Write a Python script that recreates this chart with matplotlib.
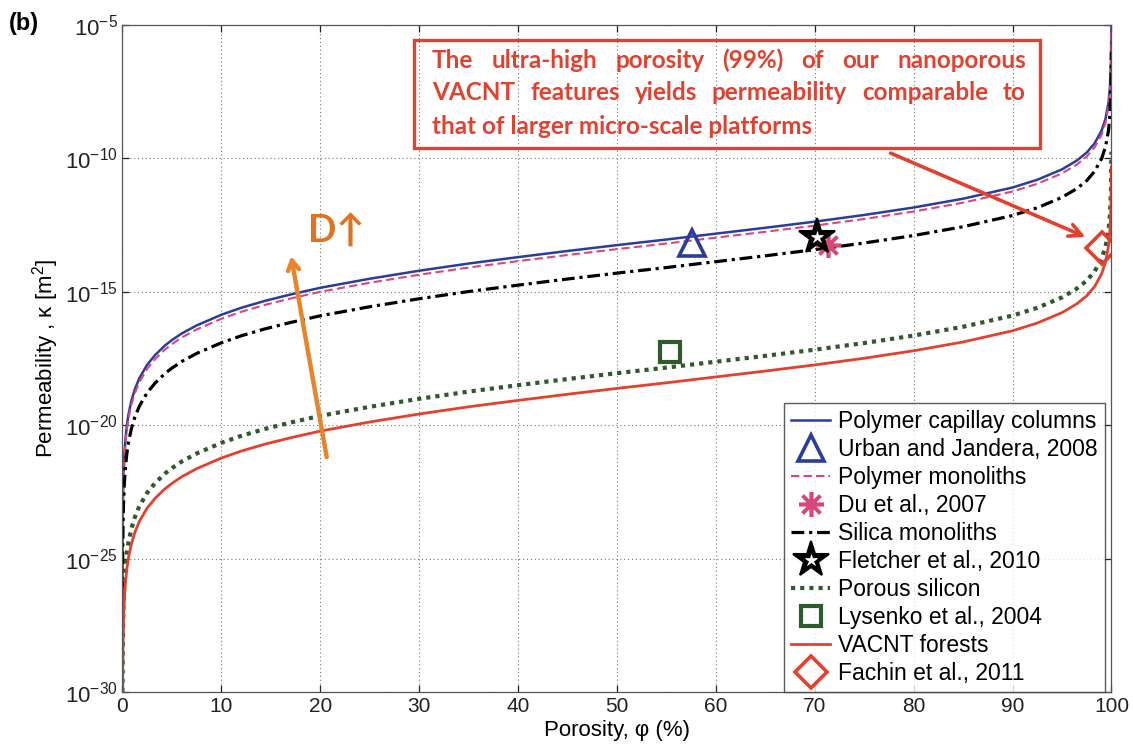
import matplotlib
matplotlib.use("Agg")
import matplotlib.pyplot as plt
import numpy as np
from matplotlib.patches import Rectangle

plt.rcParams['font.family'] = ['Liberation Sans', 'DejaVu Sans']
plt.rcParams['mathtext.fontset'] = 'custom'
plt.rcParams['mathtext.rm'] = 'Liberation Sans'
plt.rcParams['mathtext.it'] = 'Liberation Sans:italic'

# porosity (%) and log10 of permeability (m^2) for each platform
phi = [0, 0.02, 0.05, 0.1, 0.2, 0.3, 0.45, 0.6, 0.9, 1.25,
       1.7, 2.5, 3.3, 4.3, 5, 6, 7.5, 10, 12, 14.4,
       17, 20, 25, 30, 35, 40, 45, 50, 55, 60,
       65, 70, 75, 80, 85, 90, 92.5, 95, 96.5, 97.5,
       98.3, 99, 99.4, 99.7, 99.85, 99.95, 99.99]
logk_capillary = [-30, -24.05, -22.85, -21.95, -21.05, -20.52, -19.99, -19.61, -19.08, -18.65,
                  -18.24, -17.73, -17.37, -17.01, -16.81, -16.56, -16.26, -15.86, -15.60, -15.34,
                  -15.10, -14.85, -14.51, -14.21, -13.94, -13.70, -13.47, -13.25, -13.04, -12.82,
                  -12.60, -12.37, -12.12, -11.84, -11.51, -11.09, -10.80, -10.41, -10.08, -9.78,
                  -9.43, -8.96, -8.51, -7.91, -7.30, -6.35, -4.95]
logk_poly_mono = [-30, -24.20, -23.00, -22.10, -21.20, -20.67, -20.14, -19.76, -19.23, -18.80,
                  -18.39, -17.88, -17.52, -17.16, -16.96, -16.71, -16.41, -16.01, -15.75, -15.49,
                  -15.25, -15.00, -14.66, -14.36, -14.09, -13.85, -13.62, -13.40, -13.19, -12.97,
                  -12.75, -12.52, -12.27, -11.99, -11.66, -11.24, -10.95, -10.56, -10.23, -9.93,
                  -9.58, -9.11, -8.66, -8.06, -7.45, -6.50, -5.10]
logk_silica = [-30, -25.10, -23.90, -23.00, -22.10, -21.57, -21.04, -20.66, -20.13, -19.70,
               -19.29, -18.78, -18.42, -18.06, -17.86, -17.61, -17.31, -16.91, -16.65, -16.39,
               -16.15, -15.90, -15.56, -15.26, -14.99, -14.75, -14.52, -14.30, -14.09, -13.87,
               -13.65, -13.42, -13.17, -12.89, -12.56, -12.14, -11.85, -11.46, -11.13, -10.83,
               -10.48, -10.01, -9.56, -8.96, -8.35, -7.40, -6.00]
logk_por_si = [-30, -28.85, -27.65, -26.75, -25.85, -25.32, -24.79, -24.41, -23.88, -23.45,
               -23.04, -22.53, -22.17, -21.81, -21.61, -21.36, -21.06, -20.66, -20.40, -20.14,
               -19.90, -19.65, -19.31, -19.01, -18.74, -18.50, -18.27, -18.05, -17.84, -17.62,
               -17.40, -17.17, -16.92, -16.64, -16.31, -15.89, -15.60, -15.21, -14.88, -14.58,
               -14.23, -13.76, -13.31, -12.71, -12.10, -11.15, -9.75]
logk_vacnt = [-30, -29.42, -28.22, -27.32, -26.42, -25.89, -25.36, -24.98, -24.45, -24.02,
              -23.61, -23.10, -22.74, -22.38, -22.18, -21.93, -21.63, -21.23, -20.97, -20.71,
              -20.47, -20.22, -19.88, -19.58, -19.31, -19.07, -18.84, -18.62, -18.41, -18.19,
              -17.97, -17.74, -17.49, -17.21, -16.88, -16.46, -16.17, -15.78, -15.45, -15.15,
              -14.80, -14.33, -13.88, -13.28, -12.67, -11.72, -10.32]

# literature points: (porosity %, log10 permeability)
urban_2008 = (57.6, -13.18)
du_2007 = (71.3, -13.25)
fletcher_2010 = (70.2, -12.93)
lysenko_2004 = (55.4, -17.24)
fachin_2011 = (99.0, -13.35)

y_exps = [-30, -25, -20, -15, -10, -5]
x_ticks = [0, 10, 20, 30, 40, 50, 60, 70, 80, 90, 100]

BLUE = "#2b3c9b"; PINK = "#d8477c"; GREEN = "#2e5a2c"; RED = "#e2412f"
ORANGE = "#e8842a"

fig = plt.figure(figsize=(11.33, 7.49), dpi=100)
ax = fig.add_axes([0.1081, 0.0761, 0.8729, 0.8905])

p = np.array(phi)
def k(v):
    return 10.0 ** np.array(v, dtype=float)

h_cap, = ax.plot(p, k(logk_capillary), color=BLUE, lw=1.8, label="Polymer capillay columns")
h_pm, = ax.plot(p, k(logk_poly_mono), color=PINK, lw=1.5, ls=(0, (4, 2)), label="Polymer monoliths")
h_si, = ax.plot(p, k(logk_silica), color="black", lw=2.3, ls=(0, (4, 1.5, 1, 1.5)), label="Silica monoliths")
h_ps, = ax.plot(p, k(logk_por_si), color=GREEN, lw=3.0, ls=(0, (1, 1.2)), label="Porous silicon")
h_vc, = ax.plot(p, k(logk_vacnt), color=RED, lw=2.0, label="VACNT forests")

h_urb, = ax.plot(urban_2008[0], 10 ** urban_2008[1], ls="none", marker="^", ms=19,
                 mfc="none", mec=BLUE, mew=2.6)
h_du, = ax.plot(du_2007[0], 10 ** du_2007[1], ls="none", marker=(8, 2, 0), ms=18,
                mec=PINK, mew=2.6)
h_fl, = ax.plot(fletcher_2010[0], 10 ** fletcher_2010[1], ls="none", marker="*", ms=27,
                mfc="black", mec="black", mew=1.5)
h_fl2, = ax.plot(fletcher_2010[0], 10 ** fletcher_2010[1], ls="none", marker="*", ms=9,
                 mfc="white", mec="white", mew=0.5)
h_ly, = ax.plot(lysenko_2004[0], 10 ** lysenko_2004[1], ls="none", marker="s", ms=15,
                mfc="none", mec=GREEN, mew=3.0)
h_fa, = ax.plot(fachin_2011[0], 10 ** fachin_2011[1], ls="none", marker="D", ms=16,
                mfc="none", mec=RED, mew=2.6)

ax.set_yscale("log")
ax.set_xlim(0, 100)
ax.set_ylim(1e-30, 1e-5)
ax.set_xticks(x_ticks)
ax.set_xticklabels([str(t) for t in x_ticks], fontsize=15)
ax.set_yticks([10.0 ** e for e in y_exps])
ax.set_yticklabels(["$10^{%d}$" % e for e in y_exps], fontsize=16)
ax.minorticks_off()
ax.tick_params(direction="in", length=5, top=True, right=True, colors="#222222", width=0.9)
ax.grid(True, ls=(0, (1, 2.5)), color="#777777", lw=0.8)
for s in ax.spines.values():
    s.set_color("#555555"); s.set_linewidth(0.9)
ax.set_xlabel("Porosity, \u03c6 (%)", fontsize=16, labelpad=3)
ax.set_ylabel("Permeability , \u03ba [m$^2$]", fontsize=16, labelpad=3)

handles = [h_cap, h_urb, h_pm, h_du, h_si, (h_fl, h_fl2), h_ps, h_ly, h_vc, h_fa]
labels = ["Polymer capillay columns", "Urban and Jandera, 2008", "Polymer monoliths",
          "Du et al., 2007", "Silica monoliths", "Fletcher et al., 2010", "Porous silicon",
          "Lysenko et al., 2004", "VACNT forests", "Fachin et al., 2011"]
leg = ax.legend(handles, labels, loc="lower right", bbox_to_anchor=(0.993, 0.0),
                fontsize=16.5, frameon=True, fancybox=False, edgecolor="#333333",
                handlelength=1.7, handletextpad=0.35, labelspacing=0.22,
                borderpad=0.3, borderaxespad=0.0)
leg.get_frame().set_linewidth(1.0)

# orange "D increases" arrow
ax.annotate("", xy=(17.0, 10 ** -13.56), xytext=(20.7, 10 ** -21.3),
            arrowprops=dict(arrowstyle="->,head_length=0.7,head_width=0.4",
                            lw=3.2, color=ORANGE))
ax.text(21.6, 10 ** -12.75, "D\u2191", color="#e07222", fontsize=27, fontweight="bold",
        ha="center", va="center", family=["Lato", "DejaVu Sans"])

# overlay in figure pixels for the callout
ov = fig.add_axes([0, 0, 1, 1])
ov.set_xlim(0, 1133); ov.set_ylim(749, 0); ov.axis("off")
fig.text(0.008, 0.968, "(b)", fontsize=17, fontweight="bold", va="center")

ov.add_patch(Rectangle((414, 40), 626, 108, fill=False, ec=RED, lw=2.4))
note_kw = dict(color=RED, fontsize=17.5, fontweight="bold", family=["Lato", "DejaVu Sans"],
               va="center", ha="left")
fig.canvas.draw()
r = fig.canvas.get_renderer()

def justify(words, y, x0, x1):
    texts = [ov.text(0, y, w, **note_kw) for w in words]
    widths = [t.get_window_extent(r).width for t in texts]
    gap = (x1 - x0 - sum(widths)) / (len(words) - 1)
    x = x0
    for t, w in zip(texts, widths):
        t.set_x(x)
        x += w + gap

justify("The ultra-high porosity (99%) of our nanoporous".split(), 60, 432, 1026)
justify("VACNT features yields permeability comparable to".split(), 93, 432, 1026)
ov.text(432, 126, "that of larger micro-scale platforms", **note_kw)

ov.annotate("", xy=(1088, 238), xytext=(888, 152),
            arrowprops=dict(arrowstyle="->,head_length=0.9,head_width=0.45",
                            lw=2.6, color=RED))

fig.savefig("out.png", dpi=100)
